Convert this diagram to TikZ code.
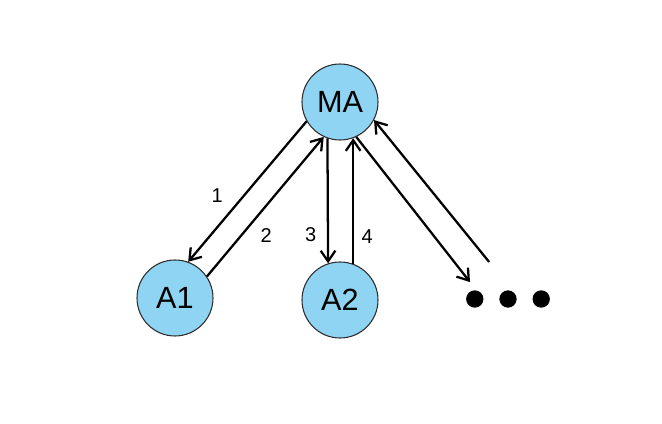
\documentclass[tikz,border=0pt]{standalone}
\usepackage{fontspec}
\setmainfont{Liberation Sans}
\usetikzlibrary{arrows.meta,positioning}
\definecolor{agentfill}{HTML}{8FD4F2}
\definecolor{agentline}{HTML}{2E2E2E}
\tikzset{
  agent/.style={circle, draw=agentline, line width=0.8pt, fill=agentfill,
    minimum size=57pt, inner sep=0pt, font=\fontsize{23}{25}\selectfont},
  msg/.style={line width=1.7pt, -{Straight Barb[length=8pt,width=11pt]}},
  lbl/.style={font=\fontsize{15}{17}\selectfont, inner sep=0pt},
  blob/.style={circle, fill=black, minimum size=13pt, inner sep=0pt},
}

\begin{document}
\begin{tikzpicture}[x=0.75pt,y=-0.75pt]
\useasboundingbox (0,0) rectangle (662,424);

\node[agent] (ma) at (340,102) {MA};
\node[agent] (a1) at (175,298) {A1};
\node[agent] (a2) at (340,300) {A2};

% ---- the "more agents" slot (invisible circle round the dots) ----
\node[circle, minimum size=62pt, inner sep=0pt] (more) at (508,299) {};
\node[blob] (d2) at (more) {};
\node[blob, left=11.5pt of d2] (d1) {};
\node[blob, right=11.5pt of d2] (d3) {};

% ---- messages ----
\draw[msg] (ma.210) -- (a1.70) node[lbl, pos=0.53, xshift=-20pt] {1};
\draw[msg] (a1.34) -- (ma.245) node[lbl, pos=0.29, xshift=19pt] {2};
\draw[msg] (ma.251.6) -- (a2.108.4) node[lbl, pos=0.77, xshift=-13pt] {3};
\draw[msg] (a2.70) -- (ma.290) node[lbl, pos=0.22, xshift=10.5pt] {4};
\draw[msg] (ma.295) -- (more.156);
\draw[msg] (more.117) -- (ma.332);

\end{tikzpicture}
\end{document}
